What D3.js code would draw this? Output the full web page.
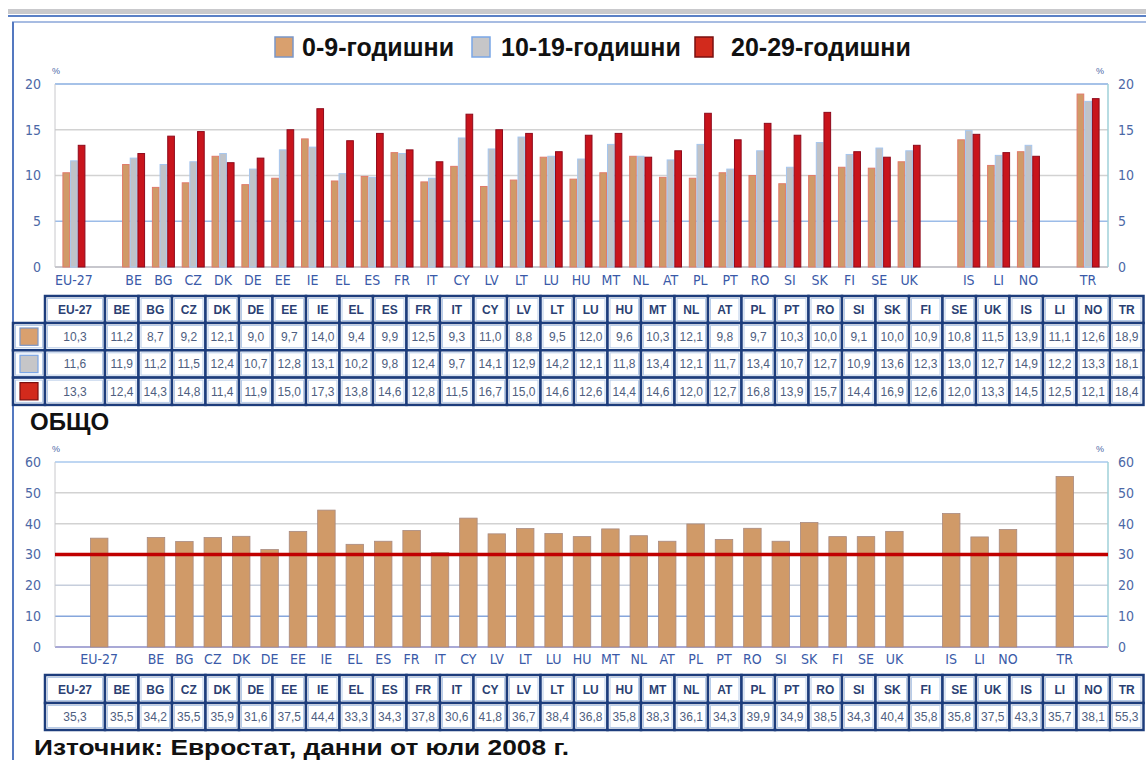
<!DOCTYPE html>
<html>
<head>
<meta charset="utf-8">
<script src="https://cdn.jsdelivr.net/npm/d3@7"></script>
<style>
  body { margin: 0; background: #fff; }
  svg { display: block; font-family: "Liberation Sans", Arial, sans-serif; }
</style>
</head>
<body>
<script>
// data
const countries = ['EU-27','BE','BG','CZ','DK','DE','EE','IE','EL','ES','FR','IT','CY','LV','LT','LU',
  'HU','MT','NL','AT','PL','PT','RO','SI','SK','FI','SE','UK','IS','LI','NO','TR']
const age0_9 = [10.3,11.2,8.7,9.2,12.1,9.0,9.7,14.0,9.4,9.9,12.5,9.3,11.0,8.8,9.5,12.0,
  9.6,10.3,12.1,9.8,9.7,10.3,10.0,9.1,10.0,10.9,10.8,11.5,13.9,11.1,12.6,18.9]
const age10_19 = [11.6,11.9,11.2,11.5,12.4,10.7,12.8,13.1,10.2,9.8,12.4,9.7,14.1,12.9,14.2,12.1,
  11.8,13.4,12.1,11.7,13.4,10.7,12.7,10.9,13.6,12.3,13.0,12.7,14.9,12.2,13.3,18.1]
const age20_29 = [13.3,12.4,14.3,14.8,11.4,11.9,15.0,17.3,13.8,14.6,12.8,11.5,16.7,15.0,14.6,12.6,
  14.4,14.6,12.0,12.7,16.8,13.9,15.7,14.4,16.9,12.6,12.0,13.3,14.5,12.5,12.1,18.4]
const total = [35.3,35.5,34.2,35.5,35.9,31.6,37.5,44.4,33.3,34.3,37.8,30.6,41.8,36.7,38.4,36.8,
  35.8,38.3,36.1,34.3,39.9,34.9,38.5,34.3,40.4,35.8,35.8,37.5,43.3,35.7,38.1,55.3]
const seriesNames = ['0-9-годишни','10-19-годишни','20-29-годишни']
const topTicks = [0,5,10,15,20]
const bottomTicks = [0,10,20,30,40,50,60]
const referenceLine = 30
// blank slots in the axis after these countries
const gapAfter = ['EU-27','UK','NO']

const W = 1146, H = 760
const fill = ['#d09a68','#c0c3c8','#c8141c']
const edge = ['#e07a6a','#a6c6ee','#8e0a1c']
const swFill = ['#d9a06e','#c6c6c8','#d22a1c']
const swEdge = ['#7a96c8','#7aa6e6','#7a1010']
const fmt = v => v.toFixed(1).replace('.', ',')

const slots = []
countries.forEach(c => { slots.push(c); if (gapAfter.includes(c)) slots.push('gap-' + c) })

const series = [age0_9, age10_19, age20_29]
const topData = countries.map((c, i) => ({ c, v: series.map(s => s[i]) }))

const svg = d3.select('body').append('svg').attr('width', W).attr('height', H)
svg.append('rect').attr('width', W).attr('height', H).attr('fill', '#fff')

// frame
svg.append('rect').attr('x', 8).attr('y', 9).attr('width', W - 8).attr('height', 5).attr('fill', '#c9c9cc')
svg.append('line').attr('x1', 8).attr('x2', W).attr('y1', 16).attr('y2', 16).attr('stroke', '#5a80c6').attr('stroke-width', 2)
svg.append('line').attr('x1', 12).attr('x2', W).attr('y1', 22).attr('y2', 22).attr('stroke', '#8aa6d8').attr('stroke-width', 1.5)
svg.append('line').attr('x1', 13).attr('x2', 13).attr('y1', 22).attr('y2', H).attr('stroke', '#5478c0').attr('stroke-width', 2)

// legend
const legendX = [275, 472, 695], legendTX = [302, 501, 731]
seriesNames.forEach((n, i) => {
  svg.append('rect').attr('x', legendX[i]).attr('y', 37).attr('width', 18).attr('height', 20)
    .attr('fill', swFill[i]).attr('stroke', swEdge[i]).attr('stroke-width', 1.5)
  svg.append('text').attr('x', legendTX[i]).attr('y', 56).text(n)
    .attr('font-size', 25).attr('font-weight', 'bold').attr('fill', '#111')
})

function drawAxes(g, y, ticks, x0, x1, gridColors, xlabelY, xScale) {
  const yTop = y(ticks[ticks.length - 1]), yBot = y(0)
  // gridlines
  g.append('g').selectAll('line').data(ticks).join('line')
    .attr('x1', x0).attr('x2', x1).attr('y1', d => y(d)).attr('y2', d => y(d))
    .attr('stroke', (d, i) => gridColors[i]).attr('stroke-width', 1.5)
  g.append('line').attr('x1', x0).attr('x2', x0).attr('y1', yTop).attr('y2', yBot).attr('stroke', '#c8c8cc')
  g.append('line').attr('x1', x1).attr('x2', x1).attr('y1', yTop).attr('y2', yBot).attr('stroke', '#9fd0d8').attr('stroke-width', 1.5)
  const left = g.append('g').attr('transform', `translate(${x0 - 14},0)`)
    .call(d3.axisLeft(y).tickValues(ticks).tickSize(0).tickPadding(0))
  const right = g.append('g').attr('transform', `translate(${x1 + 10},0)`)
    .call(d3.axisRight(y).tickValues(ticks).tickSize(0).tickPadding(0))
  ;[left, right].forEach(a => {
    a.select('.domain').remove()
    a.selectAll('text').attr('font-size', 14).attr('fill', '#4c68a6')
      .attr('font-family', '"Liberation Sans Narrow","DejaVu Sans Condensed",sans-serif')
  })
  g.append('text').attr('x', x0 - 3).attr('y', yTop - 10).text('%').attr('font-size', 9).attr('fill', '#4c68a6')
  g.append('text').attr('x', x1 - 12).attr('y', yTop - 10).text('%').attr('font-size', 9).attr('fill', '#4c68a6')
  const xa = g.append('g').attr('transform', `translate(0,${xlabelY})`)
    .call(d3.axisBottom(xScale).tickValues(countries).tickSize(0).tickPadding(0))
  xa.select('.domain').remove()
  xa.selectAll('text').attr('dy', '0.35em').attr('font-size', 14).attr('fill', '#3a5aa8')
    .attr('font-family', '"Liberation Sans Narrow","DejaVu Sans Condensed",sans-serif')
}

// top chart
const xTop = d3.scaleBand().domain(slots).range([59, 1103])
const xSub = d3.scaleBand().domain([0, 1, 2]).range([0, 23])
const yTop = d3.scaleLinear().domain([0, 20]).range([267, 84])
const gTop = svg.append('g')
drawAxes(gTop, yTop, topTicks, 55, 1108, ['#b4b4bc','#9cbce8','#d2d2d2','#d2d2d2','#88aee0'], 280, xTop)
gTop.append('g').selectAll('g').data(topData).join('g')
  .attr('transform', d => `translate(${xTop(d.c) + (xTop.bandwidth() - 23) / 2},0)`)
  .selectAll('rect').data(d => d.v).join('rect')
  .attr('x', (d, i) => xSub(i) + 0.5).attr('width', xSub.bandwidth() - 1)
  .attr('y', d => yTop(d)).attr('height', d => yTop(0) - yTop(d))
  .attr('fill', (d, i) => fill[i]).attr('stroke', (d, i) => edge[i]).attr('stroke-width', 1)

// table helper
const colX = i => i === 0 ? 45 : 105 + (i - 1) * 33.5
const colW = i => i === 0 ? 60 : 33.5
function cell(g, x, y, w, h) {
  g.append('rect').attr('x', x).attr('y', y).attr('width', w).attr('height', h)
    .attr('fill', '#fff').attr('stroke', '#1d3d7c').attr('stroke-width', 2.5)
  g.append('rect').attr('x', x + 2.5).attr('y', y + 2.5).attr('width', w - 5).attr('height', h - 5)
    .attr('fill', 'none').attr('stroke', '#b8cce8').attr('stroke-width', 1)
}
function table(y0, rowH, rows, swatches) {
  const g = svg.append('g')
  countries.forEach((c, i) => {
    cell(g, colX(i), y0, colW(i), rowH[0])
    g.append('text').attr('x', colX(i) + colW(i) / 2).attr('y', y0 + rowH[0] / 2 + 4.5)
      .attr('text-anchor', 'middle').attr('font-size', 12).attr('font-weight', 'bold').attr('fill', '#2b3f73').text(c)
  })
  let y = y0 + rowH[0]
  rows.forEach((r, k) => {
    if (swatches) {
      cell(g, 13, y, 32, rowH[1])
      g.append('rect').attr('x', 20).attr('y', y + 5).attr('width', 18).attr('height', rowH[1] - 10)
        .attr('fill', swFill[k]).attr('stroke', swEdge[k]).attr('stroke-width', 1.2)
    }
    r.forEach((v, i) => {
      cell(g, colX(i), y, colW(i), rowH[1])
      g.append('text').attr('x', colX(i) + colW(i) / 2).attr('y', y + rowH[1] / 2 + 4.5)
        .attr('text-anchor', 'middle').attr('font-size', 12).attr('fill', '#4e5e80').text(fmt(v))
    })
    y += rowH[1]
  })
}
table(296, [27, 27.3], series, true)

// bottom chart
svg.append('text').attr('x', 30).attr('y', 430).text('ОБЩО')
  .attr('font-size', 24).attr('font-weight', 'bold').attr('fill', '#111')
const xBot = d3.scaleBand().domain(slots).range([85, 1079])
const yBot = d3.scaleLinear().domain([0, 60]).range([647, 462])
const gBot = svg.append('g')
drawAxes(gBot, yBot, bottomTicks, 55, 1108,
  ['#8c8cc8','#86a6dc','#c6cedc','none','#d2d2d2','#d2d2d2','#a8c8ee'], 659, xBot)
const bw = 17.5
gBot.append('g').selectAll('rect').data(countries).join('rect')
  .attr('x', (c) => xBot(c) + (xBot.bandwidth() - bw) / 2).attr('width', bw)
  .attr('y', (c, i) => yBot(total[i])).attr('height', (c, i) => yBot(0) - yBot(total[i]))
  .attr('fill', fill[0]).attr('stroke', '#a88a80').attr('stroke-width', 0.8)
gBot.append('line').attr('x1', 55).attr('x2', 1108)
  .attr('y1', yBot(referenceLine)).attr('y2', yBot(referenceLine))
  .attr('stroke', '#c00000').attr('stroke-width', 3.5)

table(675, [28, 27], [total], false)

svg.append('text').attr('x', 34).attr('y', 755).text('Източник: Евростат, данни от юли 2008 г.')
  .attr('font-size', 22).attr('font-weight', 'bold').attr('fill', '#111')
  .attr('textLength', 535).attr('lengthAdjust', 'spacingAndGlyphs')
</script>
</body>
</html>
